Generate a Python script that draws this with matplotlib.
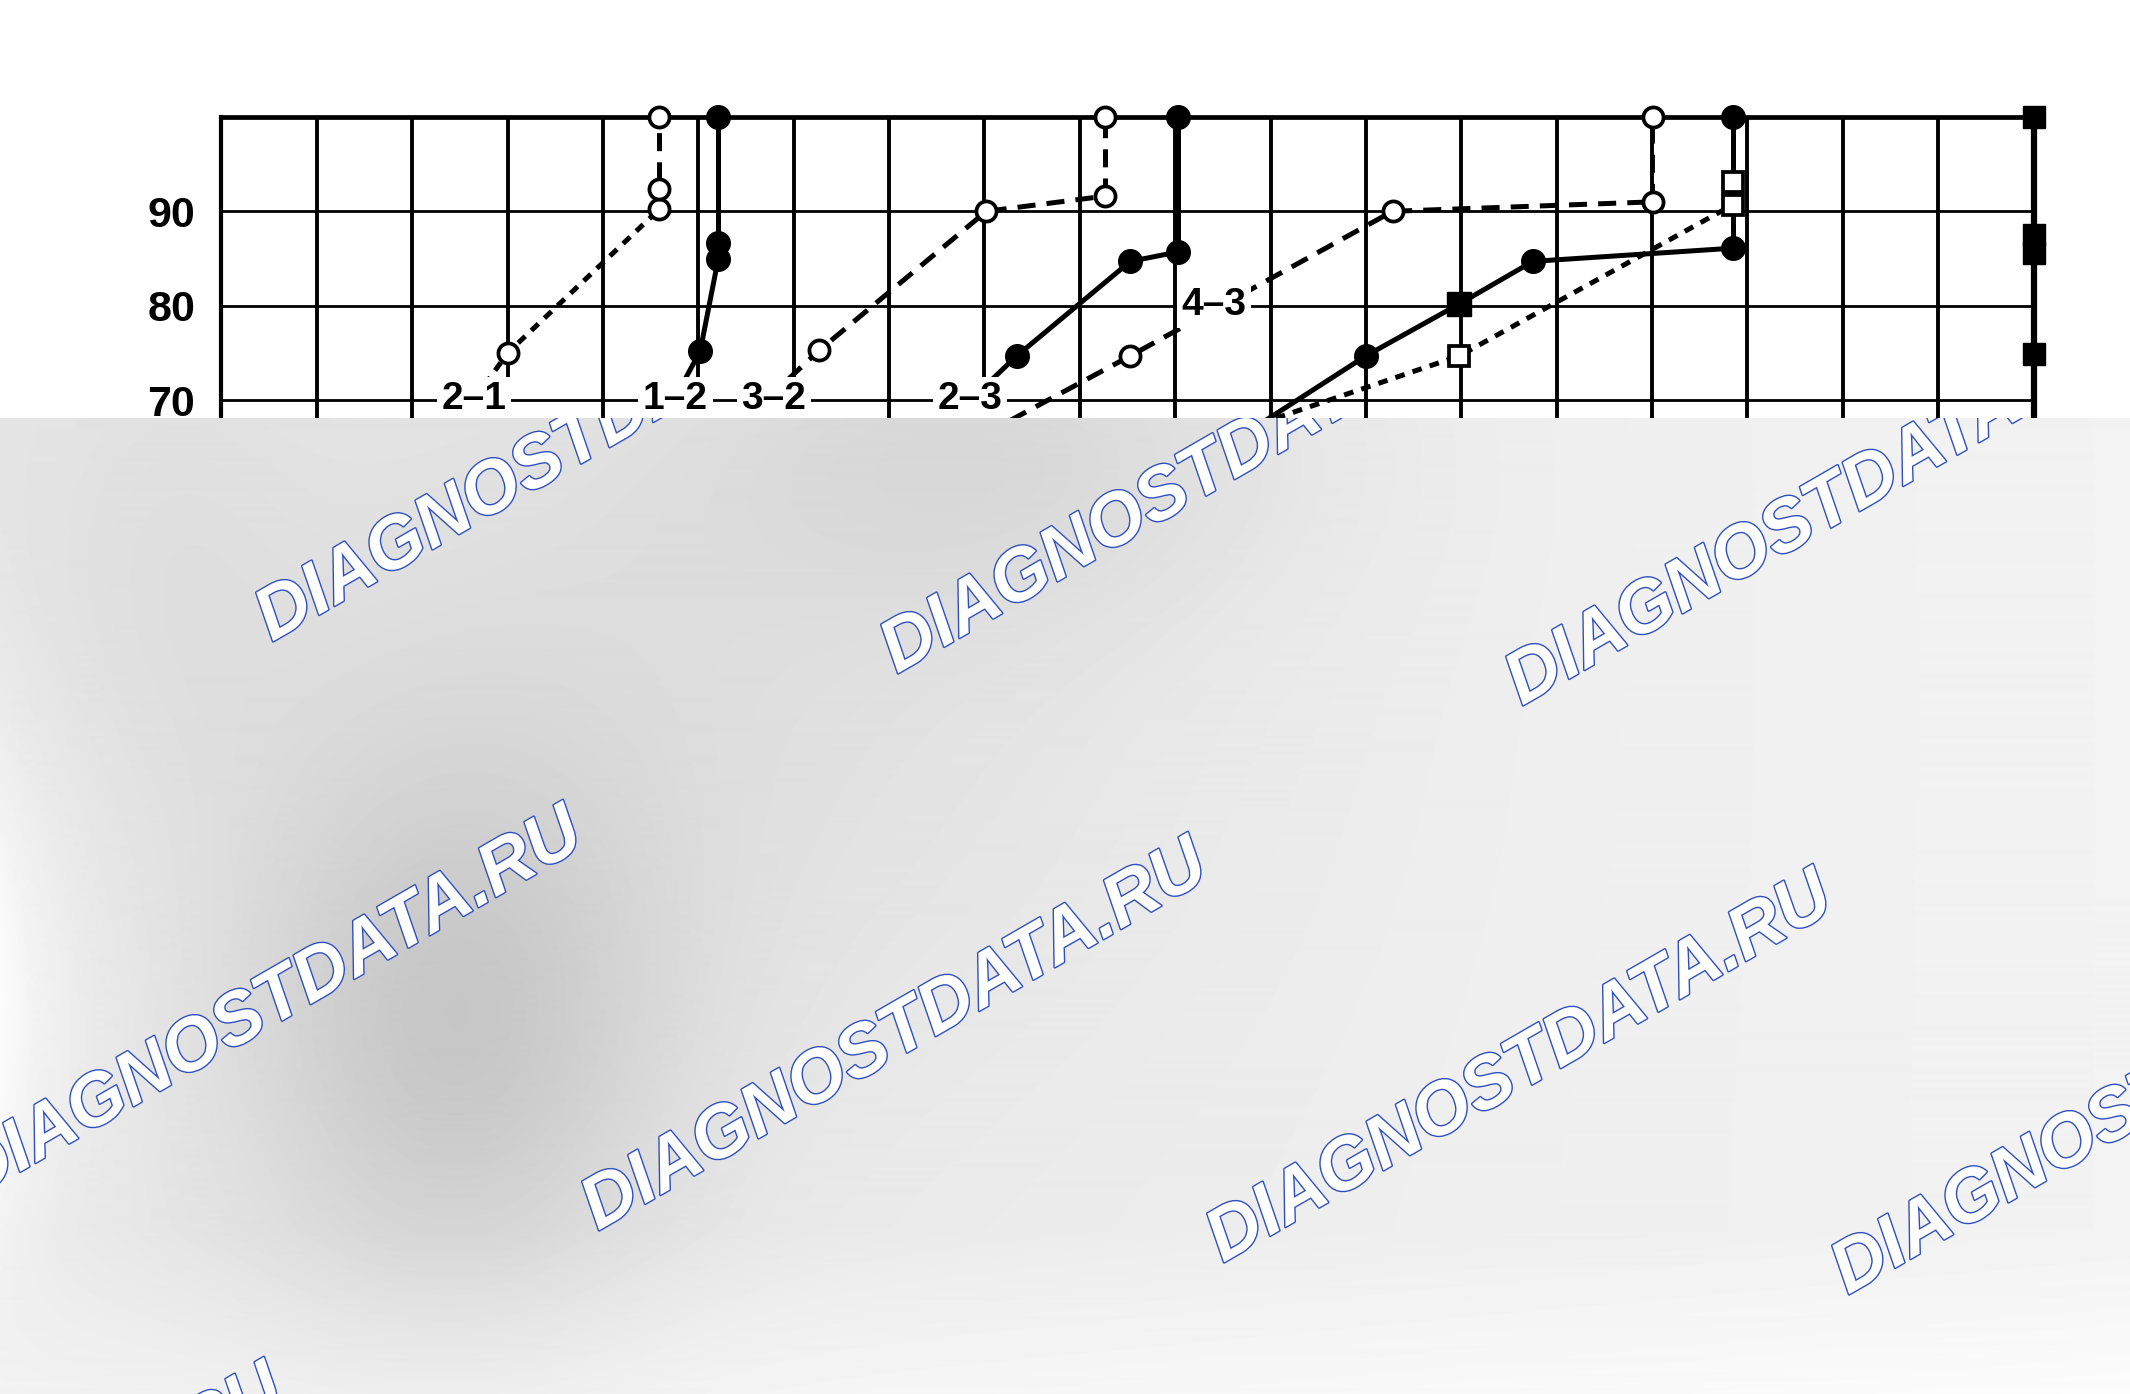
import numpy as np
import matplotlib.pyplot as plt
import matplotlib.patheffects as pe

plt.rcParams['font.family'] = ['Liberation Sans', 'DejaVu Sans']
plt.rcParams['lines.scale_dashes'] = False

# shift curves: vehicle speed (x) vs throttle opening % (y)
spd_21 = [27.6, 30.0, 45.9, 45.9, 45.9]
thr_21 = [71.6, 75.0, 90.2, 92.4, 100.0]
mk_21 = ['', 'o', 'o', 'o', 'o']

spd_12 = [48.6, 50.2, 52.1, 52.1, 52.1]
thr_12 = [72.2, 75.2, 85.0, 86.6, 100.0]
mk_12 = ['', 'o', 'o', 'o', 'o']

spd_32 = [59.4, 62.7, 80.2, 92.6, 92.6]
thr_32 = [72.2, 75.3, 90.0, 91.6, 100.0]
mk_32 = ['', 'o', 'o', 'o', 'o']

spd_23 = [80.9, 83.4, 95.3, 100.3, 100.3]
thr_23 = [72.3, 74.7, 84.7, 85.7, 100.0]
mk_23 = ['', 'o', 'o', 'o', 'o']

spd_43 = [80.0, 95.3, 122.8, 150.1, 150.1]
thr_43 = [66.4, 74.7, 90.0, 91.0, 100.0]
mk_43 = ['', 'o', 'o', 'o', 'o']

spd_34 = [104.0, 120.0, 129.8, 137.5, 158.5, 158.5]
thr_34 = [64.3, 74.7, 80.2, 84.7, 86.1, 100.0]
mk_34 = ['', 'o', 's', 'o', 'o', 'o']

spd_sq = [98.0, 129.8, 158.5, 158.5]
thr_sq = [63.8, 74.7, 90.7, 93.1]
mk_sq = ['', 's', 's', 's']

edge_spd = 190
edge_thr = [74.9, 85.6, 87.5, 100.0]

label_txt = ['2–1', '1–2', '3–2', '2–3', '4–3']
label_x = [26.5, 47.6, 57.9, 78.5, 104.1]
label_y = [70.1, 70.1, 70.1, 70.1, 80.1]

W, H = 2130, 1394
fig = plt.figure(figsize=(W / 100, H / 100), dpi=100)

# plot area in pixels
left, right, top = 221.4, 2033.5, 116.8
bottom = top + 10 * 94.5
ax = fig.add_axes([left / W, 1 - bottom / H, (right - left) / W, (bottom - top) / H])
ax.set_xlim(0, 190)
ax.set_ylim(0, 100)

ax.set_xticks(np.arange(0, 191, 10))
ax.set_xticklabels([])
ax.set_yticks(np.arange(0, 101, 10))
ax.set_yticklabels([''] + [str(v) for v in range(10, 100, 10)] + [''])
ax.tick_params(length=0, pad=19, labelsize=31)
for t in ax.get_yticklabels():
    t.set_fontweight('bold')
ax.xaxis.grid(True, color='k', lw=2.8)
ax.yaxis.grid(True, color='k', lw=2.0)
ax.set_axisbelow(True)
ax.spines['left'].set_linewidth(3.0)
ax.spines['top'].set_linewidth(3.4)
ax.spines['right'].set_visible(False)
ax.spines['bottom'].set_visible(False)

DOT = (7, 6)
DASH = (13, 8)


def curve(xs, ys, marks, split, main, vert, filled, vlw=3.6):
    for seg, style, w in [((0, split + 1), main, 3.6), ((split, len(xs)), vert, vlw)]:
        kw = dict(linestyle='-') if style is None else dict(dashes=style)
        ax.plot(xs[seg[0]:seg[1]], ys[seg[0]:seg[1]], color='k', lw=w,
                solid_capstyle='butt', zorder=4, clip_on=False, **kw)
    for x, y, m in zip(xs, ys, marks):
        if not m:
            continue
        if filled:
            ax.plot(x, y, marker=m, ms=17, mfc='k', mec='k', mew=1, zorder=5, clip_on=False)
        else:
            ax.plot(x, y, marker=m, ms=14.5, mfc='w', mec='k', mew=2.7, zorder=5, clip_on=False)


curve(spd_21, thr_21, mk_21, 2, DOT, DASH, False)
curve(spd_12, thr_12, mk_12, 2, None, None, True)
curve(spd_32, thr_32, mk_32, 3, DASH, DASH, False)
curve(spd_23, thr_23, mk_23, 3, None, None, True)
curve(spd_43, thr_43, mk_43, 3, DASH, DASH, False, vlw=2.8)
curve(spd_34, thr_34, mk_34, 4, None, None, True)
curve(spd_sq, thr_sq, mk_sq, 2, DOT, None, False)

ax.axvline(edge_spd, color='k', lw=4.5, zorder=4, clip_on=False)
ax.plot([edge_spd] * len(edge_thr), edge_thr, ls='none', marker='s', ms=16,
        mfc='k', mec='k', zorder=5, clip_on=False)

for s, x, y in zip(label_txt, label_x, label_y):
    ax.text(x, y, s, fontsize=28, fontweight='bold', ha='center', va='center', zorder=6,
            bbox=dict(boxstyle='square,pad=0.12', fc='w', ec='none'))

# grey watermark panel over the lower part
ov_top = 418
ov = fig.add_axes([0, 0, 1, (H - ov_top) / H])
ov.set_zorder(10)
ov.axis('off')
yy, xx = np.mgrid[ov_top:H, 0:W].astype(float)
img = 0.905 + 0.045 * xx / W
img += 0.04 * np.clip((yy - 1230) / 164, 0, 1)
blobs = [(456, 1040, 150, 190, 0.12), (1000, 450, 220, 120, 0.06),
         (650, 700, 380, 260, 0.045), (170, 560, 90, 160, 0.02)]
for cx, cy, sx, sy, d in blobs:
    img -= d * np.exp(-((xx - cx) ** 2 / (2 * sx ** 2) + (yy - cy) ** 2 / (2 * sy ** 2)))
edge = np.exp(-xx / 70) * np.exp(-(yy - 1010) ** 2 / (2 * 200 ** 2))
img += (0.99 - img) * edge
ov.imshow(np.clip(img, 0, 1), cmap='gray', vmin=0, vmax=1, aspect='auto',
          extent=(0, 1, 0, 1), interpolation='bilinear')
ov.set_xlim(0, 1)
ov.set_ylim(0, 1)

for j in range(0, 3):
    for i in range(0, 4 if j < 2 else 1):
        x = 272 + 625 * i - 299 * j
        y = 642 + 32 * i + 557 * j
        t = ov.text(x / W, 1 - y / H, 'DIAGNOSTDATA.RU', transform=fig.transFigure,
                    rotation=30, rotation_mode='anchor', ha='left', va='baseline',
                    fontsize=53, fontweight='bold', fontstyle='italic', color='white',
                    path_effects=[pe.Stroke(linewidth=2.0, foreground='#2f4fbf'), pe.Normal()],
                    clip_on=True)
        t.set_clip_path(ov.patch)

fig.savefig('out.png', dpi=100)
